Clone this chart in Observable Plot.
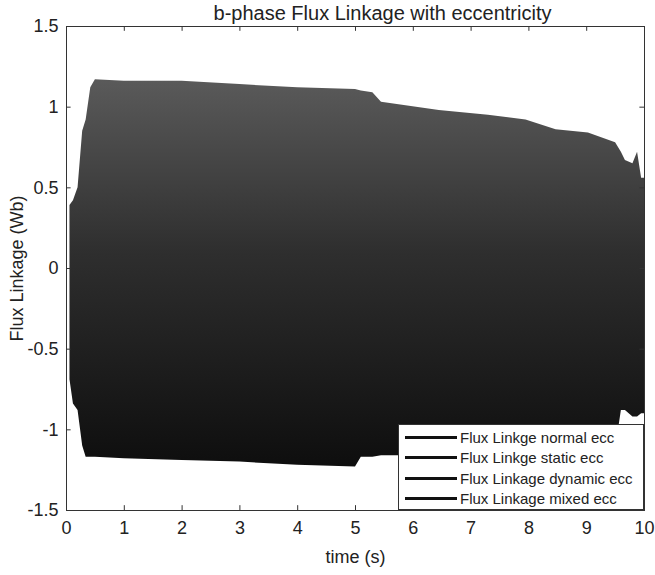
<!DOCTYPE html>
<html>
<head>
<meta charset="utf-8">
<script src="https://cdn.jsdelivr.net/npm/d3@7"></script>
<script src="https://cdn.jsdelivr.net/npm/@observablehq/plot@0.6"></script>
<style>
  html, body { margin: 0; padding: 0; background: #fff; }
  #wrap { position: relative; width: 655px; height: 575px; font-family: "Liberation Sans", Arial, sans-serif; }
  #legend { position: absolute; left: 398px; top: 424px; width: 246px; height: 86px; border: 1px solid #333; background: #fff; box-sizing: border-box; padding-top: 2px; }
  .row { display: flex; align-items: center; height: 20.5px; }
  .sample { width: 52px; height: 3px; background: #111; margin-left: 6px; margin-right: 3px; }
  .lab { font-size: 15px; color: #222; white-space: nowrap; }
</style>
</head>
<body>
<div id="wrap"></div>
<script>
// ---- data (envelope of the dense flux-linkage oscillation) ----
const time  = [0.06, 0.12, 0.2, 0.28, 0.34, 0.42, 0.5, 1, 2, 3, 4, 5, 5.1, 5.3, 5.45, 6.45, 7.3, 7.95, 8.47, 9.03, 9.5, 9.6, 9.67, 9.8, 9.88, 9.95, 10];
const upper = [0.39, 0.42, 0.5, 0.85, 0.92, 1.12, 1.17, 1.16, 1.16, 1.14, 1.12, 1.11, 1.10, 1.09, 1.03, 0.98, 0.95, 0.92, 0.86, 0.84, 0.78, 0.72, 0.67, 0.65, 0.72, 0.56, 0.56];
const lower = [-0.69, -0.84, -0.88, -1.10, -1.17, -1.17, -1.17, -1.18, -1.19, -1.20, -1.22, -1.23, -1.17, -1.17, -1.16, -1.16, -1.16, -1.16, -1.15, -1.15, -1.12, -0.88, -0.88, -0.92, -0.92, -0.90, -0.90];
const xTicks = [0, 1, 2, 3, 4, 5, 6, 7, 8, 9, 10];
const yTicks = [-1.5, -1, -0.5, 0, 0.5, 1, 1.5];
const legendLabels = ["Flux Linkge normal ecc", "Flux Linkge static ecc", "Flux Linkage dynamic ecc", "Flux Linkage mixed ecc"];
const title = "b-phase Flux Linkage with eccentricity";

const rows = time.map((t, i) => ({t, hi: upper[i], lo: lower[i]}));

const defs = () => {
  const d = d3.create("svg:defs");
  const g = d.append("linearGradient").attr("id", "fluxGrad")
    .attr("x1", 0).attr("y1", 0).attr("x2", 0).attr("y2", 1);
  g.append("stop").attr("offset", "0%").attr("stop-color", "#5a5a5a");
  g.append("stop").attr("offset", "45%").attr("stop-color", "#2e2e2e");
  g.append("stop").attr("offset", "100%").attr("stop-color", "#0e0e0e");
  return d.node();
};

const chart = Plot.plot({
  width: 655, height: 575,
  marginLeft: 66, marginRight: 11, marginTop: 26, marginBottom: 65,
  x: {domain: [0, 10]},
  y: {domain: [-1.5, 1.5]},
  style: {fontFamily: "'Liberation Sans', Arial, sans-serif", fontSize: "18px", color: "#222", background: "#fff"},
  marks: [
    defs,
    Plot.areaY(rows, {x: "t", y1: "lo", y2: "hi", fill: "url(#fluxGrad)"}),
    Plot.frame({stroke: "#333"}),
    Plot.ruleX(xTicks, {x: d => d, y1: -1.5, y2: -1.47, stroke: "#333"}),
    Plot.ruleX(xTicks, {x: d => d, y1: 1.47, y2: 1.5, stroke: "#333"}),
    Plot.ruleY(yTicks, {y: d => d, x1: 0, x2: 0.08, stroke: "#333"}),
    Plot.ruleY(yTicks, {y: d => d, x1: 9.92, x2: 10, stroke: "#333"}),
    Plot.axisX({ticks: xTicks, tickSize: 0, tickPadding: 11, tickFormat: d => String(d), fontSize: 18,
      label: "time (s)", labelAnchor: "center", labelArrow: "none", labelOffset: 52}),
    Plot.axisY({ticks: yTicks, tickSize: 0, tickPadding: 8, tickFormat: d => String(d), fontSize: 18,
      label: "Flux Linkage (Wb)", labelAnchor: "center", labelArrow: "none", labelOffset: 56}),
    Plot.text([title], {frameAnchor: "top", dy: -21, dx: 27, fontSize: 20, fill: "#222"})
  ]
});

const wrap = document.getElementById("wrap");
wrap.appendChild(chart);
const leg = document.createElement("div");
leg.id = "legend";
legendLabels.forEach(l => {
  const r = document.createElement("div"); r.className = "row";
  const s = document.createElement("div"); s.className = "sample";
  const t = document.createElement("span"); t.className = "lab"; t.textContent = l;
  r.appendChild(s); r.appendChild(t); leg.appendChild(r);
});
wrap.appendChild(leg);
</script>
</body>
</html>
